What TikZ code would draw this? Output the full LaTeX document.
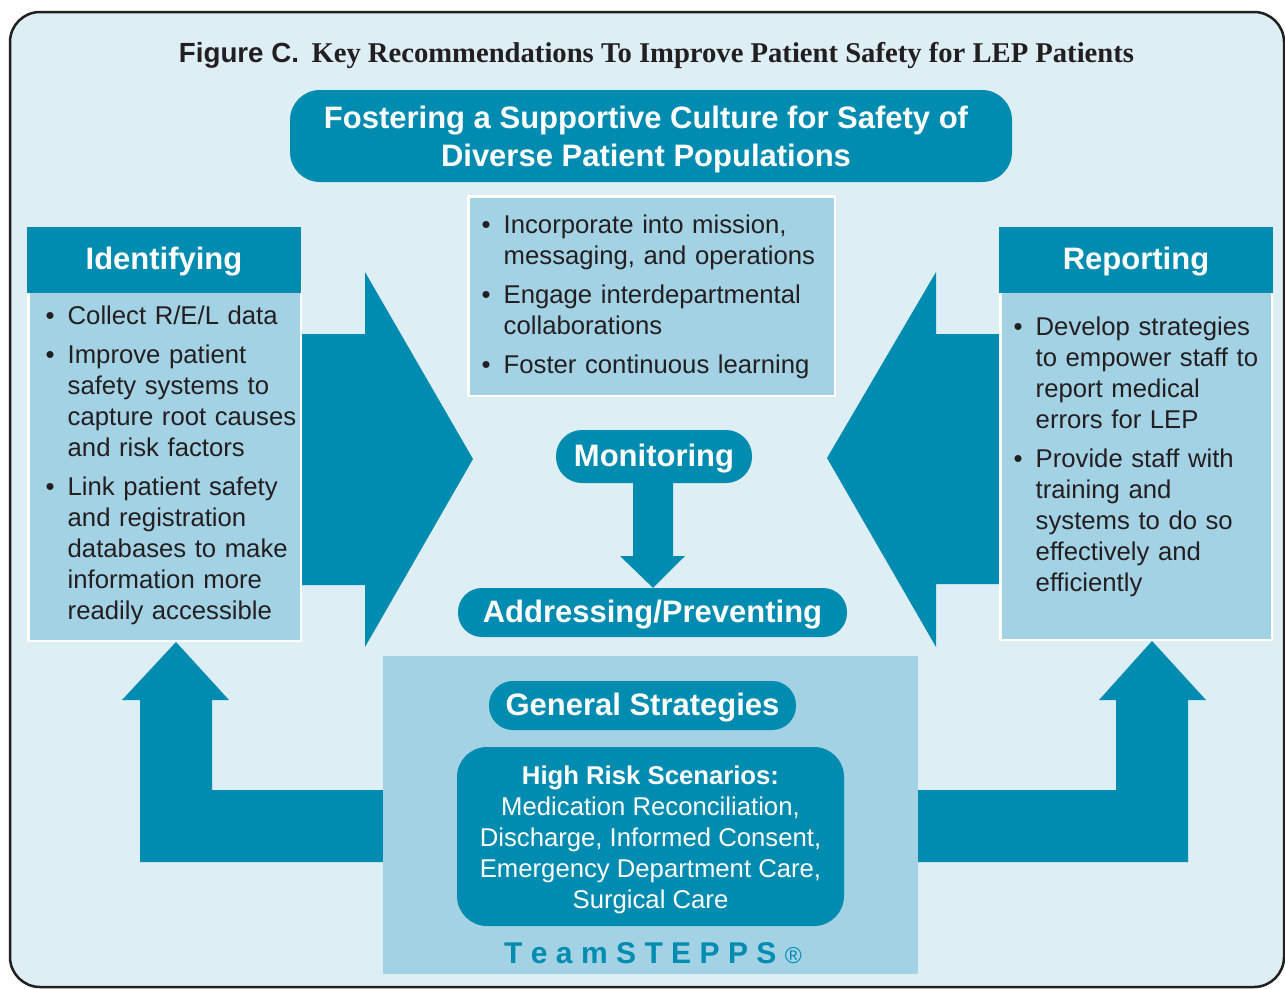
\documentclass[tikz,border=0pt]{standalone}
\usepackage{fontspec}
\setmainfont{Liberation Sans}
\newfontfamily\serifbold{Liberation Serif}
\usetikzlibrary{backgrounds}
\definecolor{stepblue}{RGB}{0,139,176}
\definecolor{paleblue}{RGB}{163,210,229}
\definecolor{backblue}{RGB}{221,238,245}
\definecolor{inkgray}{RGB}{35,31,32}
\newcommand\headfont{\fontsize{31}{38}\selectfont\bfseries}
\newcommand\bodyfont{\fontsize{25.7}{31}\selectfont}
\newcommand\bitem[1]{\noindent\hangindent=22pt\hangafter=1\strut\makebox[22pt][l]{\textbullet}#1\par}
\begin{document}
\begin{tikzpicture}[x=1pt,y=-1pt,line join=round,
		frame/.style={draw=inkgray,line width=2.5pt,fill=backblue,rounded corners=30pt},
		band/.style={fill=stepblue,inner sep=0pt},
		pill/.style={band,text=white,font=\headfont,text height=22pt,text depth=3pt},
		panel/.style={fill=paleblue,draw=white,line width=2.5pt,inner sep=0pt},
		list/.style={font=\bodyfont,text=inkgray,text width=#1,align=left,anchor=north west,inner sep=0pt}]
		\useasboundingbox (0,0) rectangle (1285,988);
		\def\tk{\kern8.4pt}
		\node[anchor=base,inner sep=0pt,text=inkgray] (title) at (656.5,62) {{\fontsize{27.7}{30}\selectfont\bfseries Figure C.}\hspace{12.5pt}{\serifbold\fontsize{28.64}{30}\selectfont\bfseries Key Recommendations To Improve Patient Safety for LEP Patients}};
		\node[band,minimum width=722pt,minimum height=92pt,rounded corners=30pt] (foster) at (651,136) {};
		\node[font=\headfont,text=white,align=center,anchor=north,inner sep=0pt] (fostertxt) at (646,101.4) {\strut Fostering a Supportive Culture for Safety of\\Diverse Patient Populations};
		\node[panel,minimum width=366.5pt,minimum height=199.5pt] (culture) at (651.5,296) {};
		\node[panel,minimum width=272.5pt,minimum height=359.5pt] (idbody) at (164.5,461) {};
		\node[pill,minimum width=274pt,minimum height=66pt] (idhead) at (164,260) {Identifying};
		\node[panel,minimum width=271.5pt,minimum height=358.5pt] (repbody) at (1136,460.5) {};
		\node[pill,minimum width=274pt,minimum height=66pt] (rephead) at (1136,260) {Reporting};
		\node[pill,minimum width=196pt,minimum height=53pt,rounded corners=26pt] (mon) at (654,456.5) {Monitoring};
		\node[pill,minimum width=389pt,minimum height=49pt,rounded corners=24pt] (addr) at (652.5,612.5) {Addressing/Preventing};
		\node[fill=paleblue,inner sep=0pt,minimum width=535pt,minimum height=318pt] (gs) at (650.5,815) {};
		\node[pill,minimum width=307pt,minimum height=49pt,rounded corners=24pt] (gspill) at (642.5,705.5) {General Strategies};
		\node[band,minimum width=387pt,minimum height=179pt,rounded corners=30pt] (risk) at (650.5,836.5) {};
		\node[font=\bodyfont,text=white,align=center,anchor=north,inner sep=0pt] (risktxt) at (650.5,762.3) {\strut\textbf{High Risk Scenarios:}\\Medication Reconciliation,\\Discharge, Informed Consent,\\Emergency Department Care,\\Surgical Care};
		\node[font=\fontsize{30}{30}\selectfont\bfseries,text=stepblue,anchor=base,inner sep=0pt] (steps) at (653,963) {T\tk e\tk a\tk m\tk S\tk T\tk E\tk P\tk P\tk S\tk{\fontsize{23}{23}\selectfont\mdseries ®}};
		\node[list=270pt] (idlist) at (45.5,302.3) {\bitem{Collect R/E/L data}\vspace{8pt}\bitem{Improve patient\newline safety systems to\newline capture root causes\newline and risk factors}\vspace{8pt}\bitem{Link patient safety\newline and registration\newline databases to make\newline information more\newline readily accessible}};
		\node[list=350pt] (culturelist) at (481.5,211.3) {\bitem{Incorporate into mission,\newline messaging, and operations}\vspace{8pt}\bitem{Engage interdepartmental\newline collaborations}\vspace{8pt}\bitem{Foster continuous learning}};
		\node[list=260pt] (replist) at (1013.5,313.3) {\bitem{Develop strategies\newline to empower staff to\newline report medical\newline errors for LEP}\vspace{8pt}\bitem{Provide staff with\newline training and\newline systems to do so\newline effectively and\newline efficiently}};
		\begin{pgfonlayer}{background}
		\draw[frame] (10,12) rectangle (1284,987);
		\fill[stepblue] (idbody.east |- 0,334) -- (365,334) -- (365,272) -- (473,459) -- (365,647) -- (365,585) -- (idbody.east |- 0,585) -- cycle;
		\fill[stepblue] (repbody.west |- 0,334) -- (936,334) -- (936,272) -- (827,458) -- (936,647) -- (936,584) -- (repbody.west |- 0,584) -- cycle;
		\fill[stepblue] (mon.south -| 633,0) -- (mon.south -| 673,0) -- (673,556) -- (685,556) -- (addr.north -| 653,0) -- (620,556) -- (633,556) -- cycle;
		\fill[stepblue] (idbody.south -| 176,0) -- (229,700) -- (212,700) -- (212,790) -- (gs.west |- 0,790) -- (gs.west |- 0,862) -- (140,862) -- (140,700) -- (122,700) -- cycle;
		\fill[stepblue] (repbody.south -| 1152,0) -- (1206,700) -- (1188,700) -- (1188,862) -- (gs.east |- 0,862) -- (gs.east |- 0,790) -- (1116,790) -- (1116,700) -- (1099,700) -- cycle;
		\end{pgfonlayer}
\end{tikzpicture}
\end{document}
